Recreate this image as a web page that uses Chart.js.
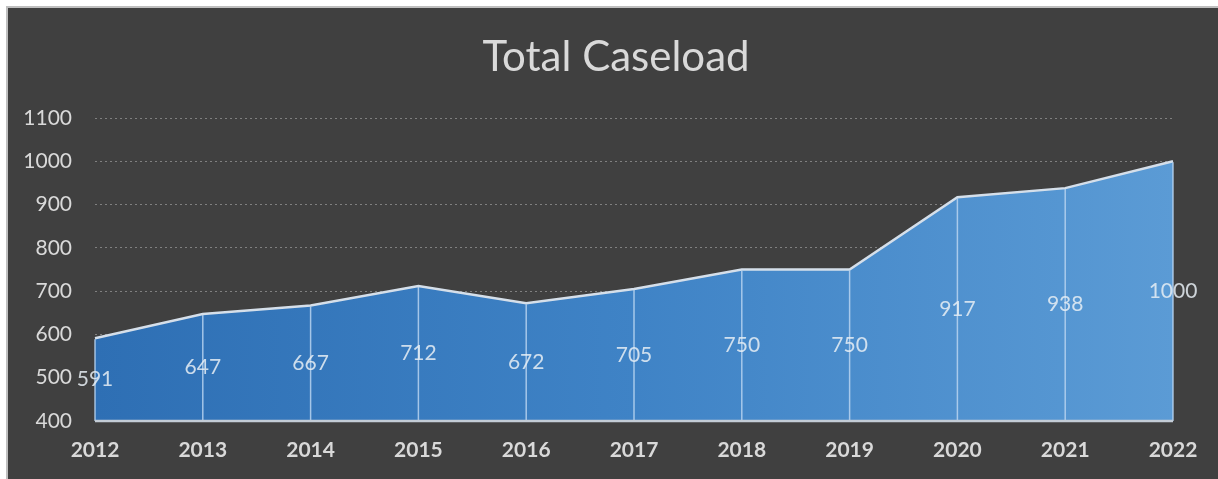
<!DOCTYPE html>
<html lang="en">
<head>
  <meta charset="UTF-8" />
  <title>Total Caseload</title>
  <script src="https://cdn.jsdelivr.net/npm/chart.js"></script>
  <style>
    body { margin: 0; background: #fff; }
    #wrap {
      position: absolute; left: 6px; top: 6px; width: 1212px; height: 473px;
      box-sizing: border-box; border-left: 2px solid #bfbfbf; border-top: 2px solid #bfbfbf;
      background: #404040;
    }
  </style>
</head>
<body>
  <div id="wrap"><canvas id="graphique"></canvas></div>

  <script>
    const years = ['2012', '2013', '2014', '2015', '2016', '2017', '2018', '2019', '2020', '2021', '2022'];
    const caseload = [591, 647, 667, 712, 672, 705, 750, 750, 917, 938, 1000];
    const yTicks = [400, 500, 600, 700, 800, 900, 1000, 1100];

    const txt = '#d9d9d9';

    // drop lines, bottom axis line and the centred value labels
    const areaDecor = {
      id: 'areaDecor',
      afterDatasetsDraw(chart) {
        const ctx = chart.ctx;
        const meta = chart.getDatasetMeta(0);
        const y = chart.scales.y;
        const area = chart.chartArea;
        ctx.save();
        ctx.strokeStyle = 'rgba(185, 212, 240, 0.85)';
        ctx.lineWidth = 1.5;
        meta.data.forEach(pt => {
          ctx.beginPath();
          ctx.moveTo(pt.x, pt.y + 1);
          ctx.lineTo(pt.x, area.bottom);
          ctx.stroke();
        });
        ctx.strokeStyle = '#c3ccd6';
        ctx.lineWidth = 2.5;
        ctx.beginPath();
        ctx.moveTo(area.left, area.bottom);
        ctx.lineTo(area.right, area.bottom);
        ctx.stroke();

        ctx.fillStyle = 'rgba(232, 238, 245, 0.85)';
        ctx.font = '21px Lato';
        ctx.textAlign = 'center';
        ctx.textBaseline = 'middle';
        meta.data.forEach((pt, i) => {
          const v = caseload[i];
          const yy = y.getPixelForValue((y.min + v) / 2);
          ctx.fillText(String(v), pt.x, yy);
        });
        ctx.restore();
      }
    };

    const ctx = document.getElementById('graphique').getContext('2d');

    new Chart(ctx, {
      type: 'line',
      data: {
        labels: years,
        datasets: [{
          label: 'Total Caseload',
          data: caseload,
          borderColor: '#d5dfea',
          borderWidth: 2.5,
          pointRadius: 0,
          tension: 0,
          fill: 'start',
          backgroundColor: (c) => {
            const a = c.chart.chartArea;
            if (!a) return '#4a88c8';
            const g = c.chart.ctx.createLinearGradient(a.left, 0, a.right, 0);
            g.addColorStop(0, '#2e6fb4');
            g.addColorStop(0.5, '#3f83c6');
            g.addColorStop(1, '#5b9bd5');
            return g;
          }
        }]
      },
      options: {
        responsive: true,
        maintainAspectRatio: false,
        animation: false,
        layout: { padding: { left: 6, right: 0, top: 0, bottom: 0 } },
        plugins: {
          legend: { display: false },
          tooltip: { enabled: false },
          title: {
            display: true,
            text: 'Total Caseload',
            color: txt,
            font: { family: 'Lato', size: 42, weight: 'normal', lineHeight: 1.2 },
            padding: { top: 24, bottom: 35.6 }
          }
        },
        scales: {
          x: {
            offset: false,
            grid: { display: false, drawTicks: false },
            border: { display: false },
            ticks: { color: txt, padding: 17, font: { family: 'Lato', size: 21, weight: 'bold' } },
            afterFit: (s) => { s.height = 58; }
          },
          y: {
            min: 400,
            max: 1100,
            afterBuildTicks: (s) => { s.ticks = yTicks.map(v => ({ value: v })); },
            grid: { color: '#808080', lineWidth: 1, drawTicks: false },
            border: { display: false, dash: [2, 3] },
            ticks: {
              color: txt, padding: 23, font: { family: 'Lato', size: 21 },
              callback: (v) => String(v)
            },
            afterFit: (s) => { s.width = 81; }
          },
          // empty right-hand strip so the plot stops where the reference does
          yRight: {
            position: 'right',
            min: 400,
            max: 1100,
            grid: { display: false, drawTicks: false },
            border: { display: false },
            ticks: { display: false },
            afterFit: (s) => { s.width = 45; }
          }
        }
      },
      plugins: [areaDecor]
    });
  </script>
</body>
</html>
